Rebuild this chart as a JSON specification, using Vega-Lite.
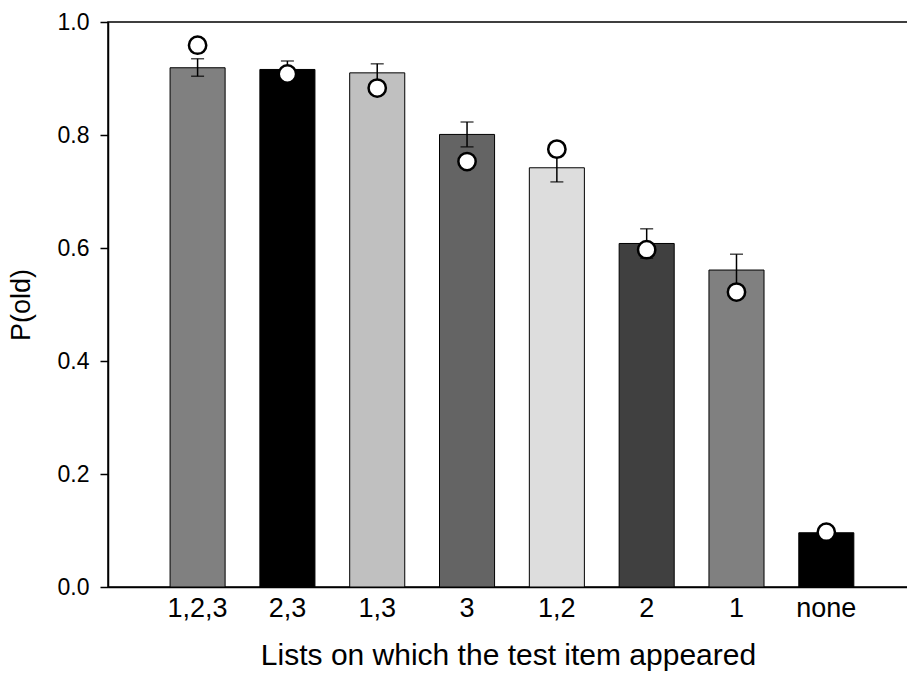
{
  "$schema": "https://vega.github.io/schema/vega-lite/v6.json",
  "width": 800,
  "height": 565,
  "autosize": {"type": "none"},
  "padding": {"left": 108, "top": 22, "right": 0, "bottom": 86},
  "background": "white",
  "config": {
    "view": {"stroke": "black", "strokeWidth": 1.5},
    "font": "Liberation Sans",
    "axis": {"domainColor": "black", "domainWidth": 1.5, "tickColor": "black", "tickWidth": 1.5, "labelColor": "black", "titleColor": "black", "labelFont": "Liberation Sans", "titleFont": "Liberation Sans", "titleFontWeight": "normal", "grid": false}
  },
  "data": {
    "values": [
      {"list": "1,2,3", "pold": 0.919, "lo": 0.904, "hi": 0.935, "model": 0.959},
      {"list": "2,3", "pold": 0.916, "lo": 0.901, "hi": 0.931, "model": 0.908},
      {"list": "1,3", "pold": 0.910, "lo": 0.894, "hi": 0.926, "model": 0.883},
      {"list": "3", "pold": 0.801, "lo": 0.779, "hi": 0.823, "model": 0.753},
      {"list": "1,2", "pold": 0.742, "lo": 0.717, "hi": 0.767, "model": 0.775},
      {"list": "2", "pold": 0.608, "lo": 0.582, "hi": 0.634, "model": 0.597},
      {"list": "1", "pold": 0.561, "lo": 0.533, "hi": 0.589, "model": 0.522},
      {"list": "none", "pold": 0.096, "lo": null, "hi": null, "model": 0.097}
    ]
  },
  "encoding": {
    "x": {
      "field": "list", "type": "nominal", "sort": null,
      "scale": {"paddingInner": 0.387, "paddingOuter": 0.647, "align": 0.534},
      "axis": {"title": "Lists on which the test item appeared", "labelAngle": 0, "ticks": false, "labelFontSize": 27, "labelPadding": 8, "titleFontSize": 30, "titlePadding": 19}
    }
  },
  "layer": [
    {
      "mark": {"type": "bar", "stroke": "black", "strokeWidth": 1},
      "encoding": {
        "y": {
          "field": "pold", "type": "quantitative",
          "scale": {"domain": [0, 1], "nice": false},
          "axis": {"title": "P(old)", "values": [0, 0.2, 0.4, 0.6, 0.8, 1.0], "format": ".1f", "tickSize": 8, "labelFontSize": 23, "labelPadding": 11, "titleFontSize": 27, "titlePadding": 22}
        },
        "color": {
          "field": "list", "type": "nominal", "legend": null,
          "scale": {"domain": ["1,2,3", "2,3", "1,3", "3", "1,2", "2", "1", "none"], "range": ["#808080", "#000000", "#c0c0c0", "#646464", "#dddddd", "#404040", "#808080", "#000000"]}
        }
      }
    },
    {
      "transform": [{"filter": "datum.lo != null"}],
      "mark": {"type": "rule", "color": "black", "strokeWidth": 1.5},
      "encoding": {"y": {"field": "lo", "type": "quantitative"}, "y2": {"field": "hi"}}
    },
    {
      "transform": [{"filter": "datum.lo != null"}],
      "mark": {"type": "tick", "color": "black", "thickness": 1.5, "size": 13, "orient": "horizontal"},
      "encoding": {"y": {"field": "lo", "type": "quantitative"}}
    },
    {
      "transform": [{"filter": "datum.lo != null"}],
      "mark": {"type": "tick", "color": "black", "thickness": 1.5, "size": 13, "orient": "horizontal"},
      "encoding": {"y": {"field": "hi", "type": "quantitative"}}
    },
    {
      "mark": {"type": "point", "shape": "circle", "filled": true, "fill": "white", "stroke": "black", "strokeWidth": 2.5, "size": 300, "opacity": 1},
      "encoding": {"y": {"field": "model", "type": "quantitative"}}
    }
  ]
}
